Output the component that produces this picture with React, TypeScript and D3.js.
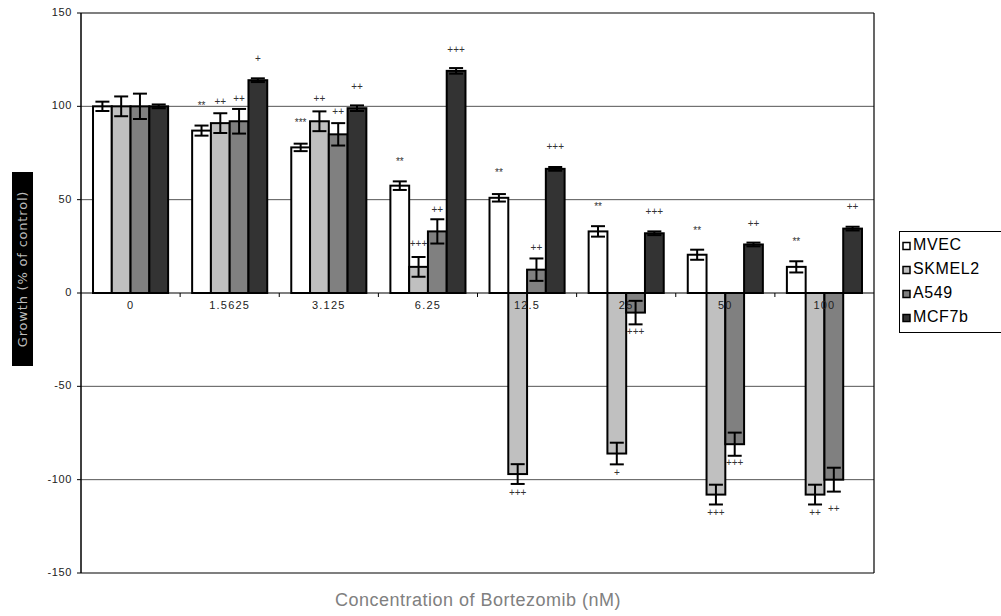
import * as d3 from "d3";

const categories = ["0", "1.5625", "3.125", "6.25", "12.5", "25", "50", "100"];
const seriesNames = ["MVEC", "SKMEL2", "A549", "MCF7b"];

const mvec = [100, 87, 78, 57.5, 51, 33, 20.5, 14];
const mvecErr = [2.5, 2.7, 2, 2.3, 2, 2.8, 2.7, 3];
const skmel2 = [100, 91, 92, 14, -97, -86, -108, -108];
const skmel2Err = [5.3, 5.3, 5.3, 5.3, 5.3, 5.8, 5.3, 5.3];
const a549 = [100, 92, 85, 33, 12.5, -10.5, -81, -100];
const a549Err = [6.8, 6.6, 6, 6.5, 6, 6.3, 6.2, 6.4];
const mcf7b = [100, 114, 99, 119, 66.5, 32, 26, 34.5];
const mcf7bErr = [1, 1, 1.5, 1.5, 1, 1, 1, 1];

// significance marks and the value (in % units) where each mark sits
const mvecSig = ["", "**", "***", "**", "**", "**", "**", "**"];
const mvecSigAt = [0, 100, 91, 70, 64, 46, 33, 27];
const skmel2Sig = ["", "++", "++", "+++", "+++", "+", "+++", "++"];
const skmel2SigAt = [0, 102, 103.5, 26, -107.5, -96.5, -118, -118];
const a549Sig = ["", "++", "++", "++", "++", "+++", "+++", "++"];
const a549SigAt = [0, 103.5, 97, 44.5, 24, -21, -91, -116];
const mcf7bSig = ["", "+", "++", "+++", "+++", "+++", "++", "++"];
const mcf7bSigAt = [0, 125, 110, 130, 78, 43, 37, 46];

const yTicks = [150, 100, 50, 0, -50, -100, -150];
const gridTicks = [100, 50, -50, -100];

const colors = ["#ffffff", "#c0c0c0", "#808080", "#333333"];

const series = [
  { name: seriesNames[0], values: mvec, err: mvecErr, sig: mvecSig, sigAt: mvecSigAt },
  { name: seriesNames[1], values: skmel2, err: skmel2Err, sig: skmel2Sig, sigAt: skmel2SigAt },
  { name: seriesNames[2], values: a549, err: a549Err, sig: a549Sig, sigAt: a549SigAt },
  { name: seriesNames[3], values: mcf7b, err: mcf7bErr, sig: mcf7bSig, sigAt: mcf7bSigAt },
];

const W = 1001;
const H = 616;
const plot = { left: 81, right: 874, top: 13, bottom: 573 };
const font = "'Liberation Sans', Arial, sans-serif";

export default function App() {
  const x = d3.scaleBand().domain(categories).range([plot.left, plot.right]);
  const xs = d3
    .scaleBand()
    .domain(seriesNames)
    .range([0, x.bandwidth()])
    .paddingInner(0)
    .paddingOuter(0.64);
  const y = d3.scaleLinear().domain([-150, 150]).range([plot.bottom, plot.top]);
  const color = d3.scaleOrdinal<string, string>().domain(seriesNames).range(colors);
  const bw = xs.bandwidth();
  const cap = 7;

  return (
    <svg
      width={W}
      height={H}
      style={{ position: "absolute", left: 0, top: 0, background: "#fff" }}
      fontFamily={font}
    >
      {/* grid */}
      {gridTicks.map((t) => (
        <line key={t} x1={plot.left} x2={plot.right} y1={y(t)} y2={y(t)} stroke="#555" strokeWidth={1} />
      ))}
      <line x1={plot.left} x2={plot.right} y1={y(150)} y2={y(150)} stroke="#000" strokeWidth={1.2} />
      <line x1={plot.left} x2={plot.right} y1={y(-150)} y2={y(-150)} stroke="#000" strokeWidth={1.2} />
      <line x1={plot.right} x2={plot.right} y1={y(150)} y2={y(-150)} stroke="#000" strokeWidth={1.2} />

      {/* bars */}
      {series.map((s) =>
        s.values.map((v, i) => {
          const bx = (x(categories[i]) ?? 0) + (xs(s.name) ?? 0);
          return (
            <rect
              key={s.name + i}
              x={bx}
              y={Math.min(y(v), y(0))}
              width={bw}
              height={Math.abs(y(v) - y(0))}
              fill={color(s.name)}
              stroke="#000"
              strokeWidth={2}
            />
          );
        })
      )}

      {/* error bars */}
      {series.map((s) =>
        s.values.map((v, i) => {
          const cx = (x(categories[i]) ?? 0) + (xs(s.name) ?? 0) + bw / 2;
          const y1 = y(v + s.err[i]);
          const y2 = y(v - s.err[i]);
          return (
            <g key={"e" + s.name + i} stroke="#000" strokeWidth={2}>
              <line x1={cx} x2={cx} y1={y1} y2={y2} />
              <line x1={cx - cap} x2={cx + cap} y1={y1} y2={y1} />
              <line x1={cx - cap} x2={cx + cap} y1={y2} y2={y2} />
            </g>
          );
        })
      )}

      {/* significance marks */}
      {series.map((s) =>
        s.sig.map((m, i) =>
          m ? (
            <text
              key={"s" + s.name + i}
              x={(x(categories[i]) ?? 0) + (xs(s.name) ?? 0) + bw / 2}
              y={y(s.sigAt[i])}
              textAnchor="middle"
              dominantBaseline="middle"
              fontSize={10}
              fill="#333"
            >
              {m}
            </text>
          ) : null
        )
      )}

      {/* zero axis */}
      <line x1={plot.left} x2={plot.right} y1={y(0)} y2={y(0)} stroke="#000" strokeWidth={1.2} />
      {categories.map((c, i) =>
        i === 0 ? null : (
          <line key={"t" + c} x1={x(c)} x2={x(c)} y1={y(0)} y2={y(0) + 4} stroke="#000" strokeWidth={1} />
        )
      )}
      {categories.map((c) => (
        <text
          key={"c" + c}
          x={(x(c) ?? 0) + x.bandwidth() / 2}
          y={y(0) + 16}
          textAnchor="middle"
          fontSize={11}
          letterSpacing={1.2}
          fill="#222"
        >
          {c}
        </text>
      ))}

      {/* y axis */}
      <line x1={plot.left} x2={plot.left} y1={y(150)} y2={y(-150)} stroke="#000" strokeWidth={1.5} />
      {yTicks.map((t) => (
        <g key={"y" + t}>
          <line x1={plot.left - 4} x2={plot.left} y1={y(t)} y2={y(t)} stroke="#000" strokeWidth={1} />
          <text
            x={plot.left - 9}
            y={y(t)}
            textAnchor="end"
            dominantBaseline="middle"
            fontSize={11}
            letterSpacing={0.6}
            fill="#222"
          >
            {t}
          </text>
        </g>
      ))}

      {/* y title */}
      <rect x={12} y={172} width={21} height={194} fill="#000" />
      <text
        transform={`translate(23,269) rotate(-90)`}
        textAnchor="middle"
        dominantBaseline="middle"
        fontSize={13}
        letterSpacing={0.8}
        fontFamily="'DejaVu Sans', sans-serif"
        fill="#bbb"
      >
        Growth (% of control)
      </text>

      {/* x title */}
      <text x={478} y={606} textAnchor="middle" fontSize={18} letterSpacing={0.5} fill="#808080">
        Concentration of Bortezomib (nM)
      </text>

      {/* legend */}
      <rect x={899.5} y={231.5} width={110} height={101} fill="#fff" stroke="#000" strokeWidth={1} />
      {seriesNames.map((n, i) => (
        <g key={"l" + n} transform={`translate(0,${246 + i * 24})`}>
          <rect x={903} y={-3.5} width={7} height={7} fill={color(n)} stroke="#000" strokeWidth={1.5} />
          <text x={913} y={0} dominantBaseline="middle" fontSize={16} letterSpacing={0.6} fill="#000">
            {n}
          </text>
        </g>
      ))}
    </svg>
  );
}
